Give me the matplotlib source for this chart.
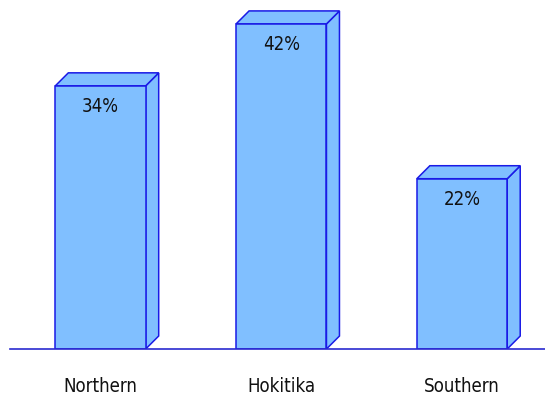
import matplotlib.pyplot as plt
from matplotlib.patches import Polygon

categories = ['Northern', 'Hokitika', 'Southern']
values = [34, 42, 22]
labels = ['34%', '42%', '22%']

FACE = '#80bfff'
EDGE = '#1a1ae6'
WIDTH = 0.5
DX = 13 / 180.75   # depth of the bars in category units
DY = 13 / 7.74     # depth in value units

fig = plt.figure(figsize=(5.45, 4.01), dpi=100)
ax = fig.add_axes([10 / 545, 52 / 401, 535 / 545, 349 / 401])
ax.set_xlim(-0.5007, 2.459)
ax.set_ylim(0, 349 / 7.74)
ax.axis('off')

for i, v in enumerate(values):
    x0 = i - WIDTH / 2
    x1 = i + WIDTH / 2
    # side face
    ax.add_patch(Polygon([(x1, 0), (x1 + DX, DY), (x1 + DX, v + DY), (x1, v)],
                         closed=True, facecolor=FACE, edgecolor=EDGE, lw=1.1))
    # top face
    ax.add_patch(Polygon([(x0, v), (x0 + DX, v + DY), (x1 + DX, v + DY), (x1, v)],
                         closed=True, facecolor=FACE, edgecolor=EDGE, lw=1.1))
    # front face
    ax.bar(i, v, width=WIDTH, color=FACE, edgecolor=EDGE, lw=1.1)
    ax.annotate(labels[i], (i, v), xytext=(0, -21), textcoords='offset pixels',
                ha='center', va='center', fontsize=13.4, fontstretch='condensed',
                color='#111111')
    ax.annotate(categories[i], (i, 0), xytext=(0, -37), textcoords='offset pixels',
                ha='center', va='center', fontsize=13.4, fontstretch='condensed',
                color='#111111', annotation_clip=False)

ax.axhline(0, color='#2a2ad0', lw=1.2, clip_on=False)

fig.savefig('out.png', dpi=100)
